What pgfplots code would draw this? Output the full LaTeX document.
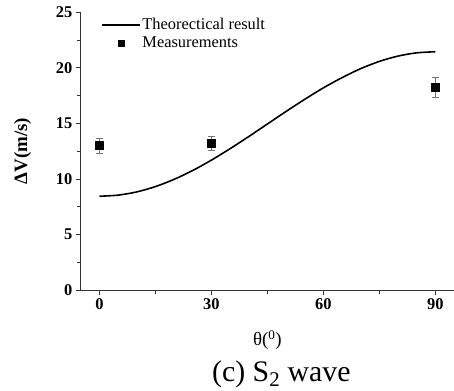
\documentclass[border=0pt]{standalone}
\usepackage{fontspec}
\setmainfont{Liberation Serif}
\usepackage{pgfplots}
\pgfplotsset{compat=1.18}
\begin{document}
\begin{tikzpicture}
\begin{axis}[
  scale only axis,
  width=374bp, height=278.5bp,
  xmin=-5, xmax=95, ymin=0, ymax=25,
  axis lines*=left,
  axis line style={line width=1.1bp, black!80},
  xtick={0,30,60,90}, ytick={0,5,10,15,20,25},
  minor x tick num=1, minor y tick num=1,
  tick align=outside,
  major tick length=5bp, minor tick length=4bp,
  tick style={line width=0.9bp, black!80},
  /pgf/number format/assume math mode=true,
  ticklabel style={font=\fontsize{16.5}{16.5}\selectfont\bfseries},
  ylabel={\textbf{ΔV(m/s)}},
  ylabel style={font=\fontsize{19}{19}\selectfont, yshift=18bp},
  legend cell align=left,
  legend style={draw=none, fill=none, at={(rel axis cs:0,1)}, anchor=north west,
    xshift=17bp, yshift=-2bp, font=\fontsize{16.5}{16.5}\selectfont,
    row sep=1.5bp},
  legend image code/.code={\draw[mark repeat=2,mark phase=2,#1] plot coordinates {(0bp,0bp) (19bp,0bp) (38bp,0bp)};},
  clip=false,
]
\addplot[black, line width=1.6bp, smooth] coordinates {
(0,8.45) (5,8.55) (10,8.84) (15,9.32) (20,9.97) (25,10.77) (30,11.70)
(35,12.73) (40,13.82) (45,14.95) (50,16.08) (55,17.17) (60,18.20)
(65,19.12) (70,19.93) (75,20.58) (80,21.06) (85,21.35) (90,21.45)
};
\addlegendentry{Theorectical result}
\addplot[only marks, mark=square*, mark size=4bp, black,
  legend image post style={mark size=3bp},
  error bars/.cd, y dir=both, y explicit,
  error bar style={black!55, line width=0.7bp},
  error mark options={rotate=90, mark size=3.5bp, black!55, line width=0.7bp}]
coordinates {
(0,13.0) +- (0,0.65)
(30,13.2) +- (0,0.65)
(90,18.25) +- (0,0.9)
};
\addlegendentry{Measurements}
\coordinate (SW) at (rel axis cs:0,0);
\coordinate (NE) at (rel axis cs:1,1);
\node[font=\fontsize{19}{19}\selectfont] at ([yshift=-50bp]rel axis cs:0.5,0) {θ(\textsuperscript{0})};
\node[font=\fontsize{30}{30}\selectfont] at ([xshift=14bp,yshift=-84bp]rel axis cs:0.5,0) {(c) S\textsubscript{2} wave};
\end{axis}
\pgfresetboundingbox
\path ([xshift=-81bp,yshift=-101bp]SW) rectangle ([yshift=12.3bp]NE);
\end{tikzpicture}
\end{document}
